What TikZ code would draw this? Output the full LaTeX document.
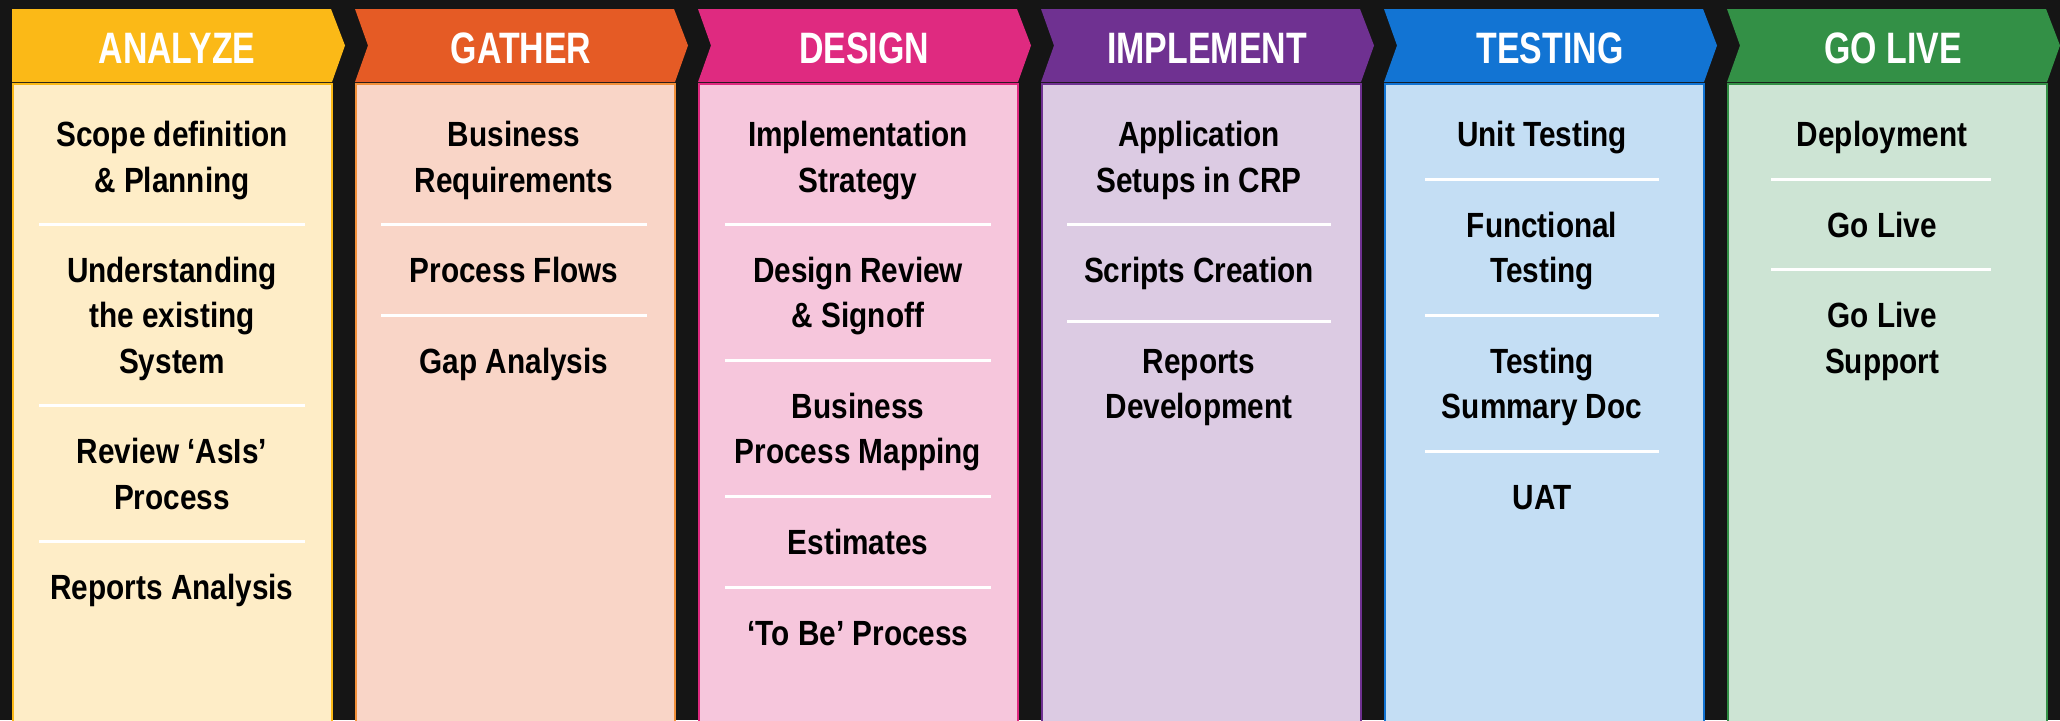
\documentclass[tikz,border=0pt]{standalone}
\usepackage{fontspec}
\usepackage{tikz}
\usetikzlibrary{positioning}
\newfontfamily\hdrfont[FakeStretch=0.77]{Liberation Sans}
\newfontfamily\itemfont[FakeStretch=0.85]{Liberation Sans}
\definecolor{bgdark}{HTML}{151515}
\definecolor{anaC}{HTML}{FBB917}
\definecolor{anaL}{HTML}{FEEDC7}
\definecolor{gatC}{HTML}{E55B25}
\definecolor{gatB}{HTML}{F2903A}
\definecolor{gatL}{HTML}{F9D5C7}
\definecolor{desC}{HTML}{DF2A80}
\definecolor{desL}{HTML}{F6C6DC}
\definecolor{impC}{HTML}{6F3191}
\definecolor{impL}{HTML}{DCCBE3}
\definecolor{tstC}{HTML}{1274D3}
\definecolor{tstL}{HTML}{C4DEF4}
\definecolor{livC}{HTML}{339046}
\definecolor{livL}{HTML}{CDE4D4}
\tikzstyle{hdrtext} = [anchor=base, inner sep=0pt, text=white, font=\hdrfont\bfseries\fontsize{44}{50}\selectfont]
\tikzstyle{body} = [rectangle, line width=2pt, minimum width=319pt, minimum height=660pt, anchor=north west, inner sep=0pt]
\tikzstyle{item} = [align=center, anchor=north, inner sep=0pt, text=black, font=\itemfont\bfseries\fontsize{35}{45.3}\selectfont]
\tikzstyle{sepline} = [draw=white, line width=3pt]

\begin{document}
\begin{tikzpicture}[x=1pt, y=-1pt]

\useasboundingbox (0,0) rectangle (2060,720);
\fill[bgdark] (0,0) rectangle (2060,720);
\clip (0,0) rectangle (2060,720);

% column boxes =============================
\node[body, draw=anaC, fill=anaL] (analyzebox) at (12,83) {};
\node[body, draw=gatB, fill=gatL] (gatherbox) at (355,83) {};
\node[body, draw=desC, fill=desL] (designbox) at (698,83) {};
\node[body, draw=impC, fill=impL] (implementbox) at (1041,83) {};
\node[body, draw=tstC, fill=tstL] (testingbox) at (1384,83) {};
\node[body, draw=livC, fill=livL] (livebox) at (1727,83) {};

% header arrows
\fill[anaC] (12,9) -- ++(319,0) -- ++(14,36.5) -- ++(-13,36.5) -- ++(-320,0) -- cycle;
\fill[gatC] (355,9) -- ++(319,0) -- ++(14,36.5) -- ++(-13,36.5) -- ++(-320,0) -- ++(13,-36.5) -- cycle;
\fill[desC] (698,9) -- ++(319,0) -- ++(14,36.5) -- ++(-13,36.5) -- ++(-320,0) -- ++(13,-36.5) -- cycle;
\fill[impC] (1041,9) -- ++(319,0) -- ++(14,36.5) -- ++(-13,36.5) -- ++(-320,0) -- ++(13,-36.5) -- cycle;
\fill[tstC] (1384,9) -- ++(319,0) -- ++(14,36.5) -- ++(-13,36.5) -- ++(-320,0) -- ++(13,-36.5) -- cycle;
\fill[livC] (1727,9) -- ++(319,0) -- ++(14,36.5) -- ++(-13,36.5) -- ++(-320,0) -- ++(13,-36.5) -- cycle;

% header text
\node[hdrtext] (analyze) at (177,63) {ANALYZE};
\node[hdrtext] (gather) at (521,63) {GATHER};
\node[hdrtext] (design) at (864,63) {DESIGN};
\node[hdrtext] (implement) at (1207,63) {IMPLEMENT};
\node[hdrtext] (testing) at (1550,63) {TESTING};
\node[hdrtext] (golive) at (1893,63) {GO LIVE};

% analyze
\node[item] (scope) at (172,115) {\strut Scope definition\\\& Planning};
\node[item] (understand) at (172,250.7) {\strut Understanding\\the existing\\System};
\node[item] (asis) at (172,431.9) {\strut Review ‘AsIs’\\Process};
\node[item] (reports) at (172,567.8) {\strut Reports Analysis};
\draw[sepline] (39,224.6) -- (305,224.6);
\draw[sepline] (39,405.8) -- (305,405.8);
\draw[sepline] (39,541.7) -- (305,541.7);

% gather
\node[item] (busreq) at (514,115) {\strut Business\\Requirements};
\node[item] (flows) at (514,250.7) {\strut Process Flows};
\node[item] (gap) at (514,341.3) {\strut Gap Analysis};
\draw[sepline] (381,224.6) -- (647,224.6);
\draw[sepline] (381,315.2) -- (647,315.2);

% design
\node[item] (strategy) at (858,115) {\strut Implementation\\Strategy};
\node[item] (signoff) at (858,250.7) {\strut Design Review\\\& Signoff};
\node[item] (mapping) at (858,386.6) {\strut Business\\Process Mapping};
\node[item] (estimates) at (858,522.5) {\strut Estimates};
\node[item] (tobe) at (858,613.1) {\strut ‘To Be’ Process};
\draw[sepline] (725,224.6) -- (991,224.6);
\draw[sepline] (725,360.5) -- (991,360.5);
\draw[sepline] (725,496.4) -- (991,496.4);
\draw[sepline] (725,587) -- (991,587);

% implement
\node[item] (setups) at (1199,115) {\strut Application\\Setups in CRP};
\node[item] (scripts) at (1199,250.7) {\strut Scripts Creation};
\node[item] (reportsdev) at (1199,341.3) {\strut Reports\\Development};
\draw[sepline] (1067,224.6) -- (1331,224.6);
\draw[sepline] (1067,321) -- (1331,321);

% testing
\node[item] (unit) at (1542,115) {\strut Unit Testing};
\node[item] (functional) at (1542,205.4) {\strut Functional\\Testing};
\node[item] (summary) at (1542,341.3) {\strut Testing\\Summary Doc};
\node[item] (uat) at (1542,477.2) {\strut UAT};
\draw[sepline] (1425,179.3) -- (1659,179.3);
\draw[sepline] (1425,315.2) -- (1659,315.2);
\draw[sepline] (1425,451.1) -- (1659,451.1);

% go live
\node[item] (deploy) at (1882,115) {\strut Deployment};
\node[item] (live) at (1882,205.4) {\strut Go Live};
\node[item] (support) at (1882,296) {\strut Go Live\\Support};
\draw[sepline] (1771,179.3) -- (1991,179.3);
\draw[sepline] (1771,269.9) -- (1991,269.9);

\end{tikzpicture}
\end{document}
